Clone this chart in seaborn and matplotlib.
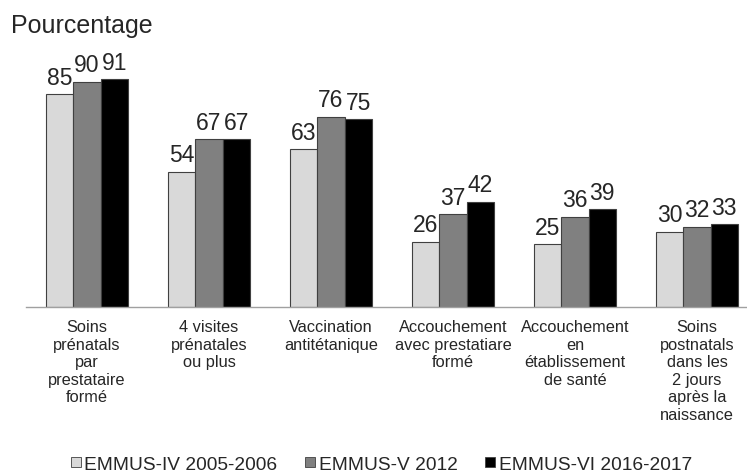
import numpy as np
import pandas as pd
import matplotlib
matplotlib.use('Agg')
import matplotlib.pyplot as plt
import seaborn as sns

categories = ['Soins\nprénatals\npar\nprestataire\nformé',
              '4 visites\nprénatales\nou plus',
              'Vaccination\nantitétanique',
              'Accouchement\navec prestatiare\nformé',
              'Accouchement\nen\nétablissement\nde santé',
              'Soins\npostnatals\ndans les\n2 jours\naprès la\nnaissance']
series = ['EMMUS-IV 2005-2006', 'EMMUS-V 2012', 'EMMUS-VI 2016-2017']
emmus_iv = [85, 54, 63, 26, 25, 30]
emmus_v = [90, 67, 76, 37, 36, 32]
emmus_vi = [91, 67, 75, 42, 39, 33]
colors = ['#d9d9d9', '#808080', '#000000']

df = pd.DataFrame({
    'cat': categories * 3,
    'serie': [s for s in series for _ in categories],
    'val': emmus_iv + emmus_v + emmus_vi,
})

sns.set_style('white')
plt.rcParams['font.family'] = ['Liberation Sans', 'DejaVu Sans']

fig = plt.figure(figsize=(7.47, 4.77), dpi=100)
ax = fig.add_axes([26 / 747, 1 - 308 / 477, 721 / 747, 263 / 477])

sns.barplot(data=df, x='cat', y='val', hue='serie', palette=colors,
            edgecolor='#404040', linewidth=0.8, width=0.67, ax=ax,
            legend=False)

for cont in ax.containers:
    ax.bar_label(cont, fmt='%d', fontsize=16.5, padding=4)

ax.set_ylim(0, 105)
ax.set_xlim(-0.5, 5.41)
ax.set_xlabel('')
ax.set_ylabel('')
ax.set_yticks([])
ax.tick_params(axis='x', length=0, labelsize=11.8, pad=9)
for sp in ['top', 'right', 'left']:
    ax.spines[sp].set_visible(False)
ax.spines['bottom'].set_color('#a0a0a0')
ax.spines['bottom'].set_linewidth(1)

fig.text(11 / 747, 1 - 33 / 477, 'Pourcentage', fontsize=18, va='baseline')

# légende en bas, carrés collés au texte
handles = [plt.Line2D([], [], marker='s', linestyle='', markersize=7.5,
                      markerfacecolor=c, markeredgecolor='#404040',
                      markeredgewidth=0.6) for c in colors]
fig.legend(handles, series, loc='center', bbox_to_anchor=(381 / 747, 1 - 465 / 477),
           ncol=3, frameon=False, fontsize=13.8, handletextpad=0.15,
           columnspacing=1.4, handlelength=0.6, borderpad=0)

fig.savefig('out.png', dpi=100)
